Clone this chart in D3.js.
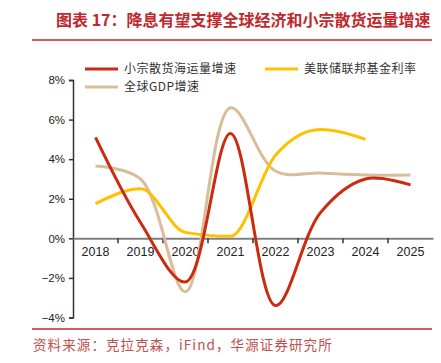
<!DOCTYPE html>
<html>
<head>
<meta charset="utf-8">
<script src="https://cdn.jsdelivr.net/npm/d3@7/dist/d3.min.js"></script>
<style>
  body { margin: 0; background: #fff; }
  svg { display: block; }
</style>
</head>
<body>
<div id="chart"></div>
<script>
(function() {

  var years = ['2018', '2019', '2020', '2021', '2022', '2023', '2024', '2025'];
  var bulkGrowth = [5.1, 0.8, -2.2, 5.3, -3.4, 1.3, 3.0, 2.7];
  var fedRate = [1.75, 2.5, 0.3, 0.1, 4.2, 5.5, 5.0, null];
  var gdpGrowth = [3.65, 3.0, -2.7, 6.6, 3.4, 3.3, 3.2, 3.2];
  var yTicks = [-4, -2, 0, 2, 4, 6, 8];

  var series = [
    {name: '小宗散货海运量增速', values: bulkGrowth, color: '#cc2a10', curve: d3.curveCatmullRom.alpha(0.5)},
    {name: '美联储联邦基金利率', values: fedRate, color: '#ffc000', curve: d3.curveMonotoneX},
    {name: '全球GDP增速', values: gdpGrowth, color: '#d8bd98', curve: d3.curveCatmullRom.alpha(0.5)}
  ];

  var width = 441, height = 363;
  var svg = d3.select('#chart')
    .append('svg')
    .attr('width', width)
    .attr('height', height);

  // title
  svg.append('text')
    .attr('x', 56)
    .attr('y', 26)
    .attr('fill', '#c0282d')
    .attr('font-family', 'Noto Sans CJK SC, sans-serif')
    .attr('font-weight', 'bold')
    .attr('font-size', 16)
    .text('图表 17：降息有望支撑全球经济和小宗散货运量增速');

  svg.append('line')
    .attr('x1', 32).attr('x2', 432)
    .attr('y1', 40).attr('y2', 40)
    .attr('stroke', '#c0282d')
    .attr('stroke-width', 1.5);

  var x = d3.scaleBand()
    .domain(years)
    .range([73, 433]);

  var y = d3.scaleLinear()
    .domain([-4, 8])
    .range([317.5, 80]);

  // y axis
  var yAxis = d3.axisLeft(y)
    .tickValues(yTicks)
    .tickSize(4)
    .tickFormat(function(d) { return (d < 0 ? '\u2212' + (-d) : d) + '%'; });

  var gy = svg.append('g')
    .attr('transform', 'translate(73,0)')
    .call(yAxis);
  gy.select('.domain').attr('stroke', '#333').attr('stroke-width', 1.5);
  gy.selectAll('.tick line').attr('stroke', '#333').attr('stroke-width', 1.5);
  gy.selectAll('.tick text')
    .attr('fill', '#222')
    .attr('font-family', 'Arial, Liberation Sans, sans-serif')
    .attr('font-size', 11.5)
    .attr('x', -8);

  // x axis at zero
  var xAxis = d3.axisBottom(x).tickSize(0).tickPadding(9);
  var gx = svg.append('g')
    .attr('transform', 'translate(0,' + y(0) + ')')
    .call(xAxis);
  gx.select('.domain').attr('stroke', '#7f7f7f').attr('stroke-width', 2);
  gx.selectAll('.tick text')
    .attr('fill', '#222')
    .attr('font-family', 'Arial, Liberation Sans, sans-serif')
    .attr('font-size', 12.5);

  gx.selectAll('line.sep')
    .data(years.slice(1))
    .enter()
    .append('line')
    .attr('class', 'sep')
    .attr('x1', function(d) { return x(d); })
    .attr('x2', function(d) { return x(d); })
    .attr('y1', 0)
    .attr('y2', 5)
    .attr('stroke', '#333')
    .attr('stroke-width', 1.5);

  // lines
  var drawOrder = [series[2], series[1], series[0]];
  svg.selectAll('path.series')
    .data(drawOrder)
    .enter()
    .append('path')
    .attr('class', 'series')
    .attr('fill', 'none')
    .attr('stroke', function(d) { return d.color; })
    .attr('stroke-width', 3)
    .attr('d', function(s) {
      var line = d3.line()
        .x(function(d) { return x(d.year) + x.bandwidth() / 2; })
        .y(function(d) { return y(d.v); })
        .curve(s.curve);
      var pts = years.map(function(yr, i) { return {year: yr, v: s.values[i]}; })
        .filter(function(p) { return p.v != null; });
      return line(pts);
    });

  // legend
  var legendPos = [
    {x: 85, y: 69},
    {x: 265, y: 69},
    {x: 85, y: 87}
  ];
  var legend = svg.selectAll('g.legend')
    .data(series)
    .enter()
    .append('g')
    .attr('class', 'legend')
    .attr('transform', function(d, i) { return 'translate(' + legendPos[i].x + ',' + legendPos[i].y + ')'; });

  legend.append('line')
    .attr('x1', 0).attr('x2', 33)
    .attr('stroke', function(d) { return d.color; })
    .attr('stroke-width', 3);

  legend.append('text')
    .attr('x', 39)
    .attr('dy', '0.35em')
    .attr('fill', '#333')
    .attr('font-family', 'Noto Sans CJK SC, sans-serif')
    .attr('font-size', 12)
    .attr('letter-spacing', 0.5)
    .text(function(d) { return d.name; });

  // source
  svg.append('line')
    .attr('x1', 32).attr('x2', 432)
    .attr('y1', 329).attr('y2', 329)
    .attr('stroke', '#c0282d')
    .attr('stroke-width', 1.5);

  svg.append('text')
    .attr('x', 33)
    .attr('y', 350)
    .attr('fill', '#c0504d')
    .attr('font-family', 'Noto Sans CJK SC, sans-serif')
    .attr('font-size', 13.5)
    .attr('letter-spacing', 1.1)
    .text('资料来源：克拉克森，iFind，华源证券研究所');

})();
</script>
</body>
</html>
